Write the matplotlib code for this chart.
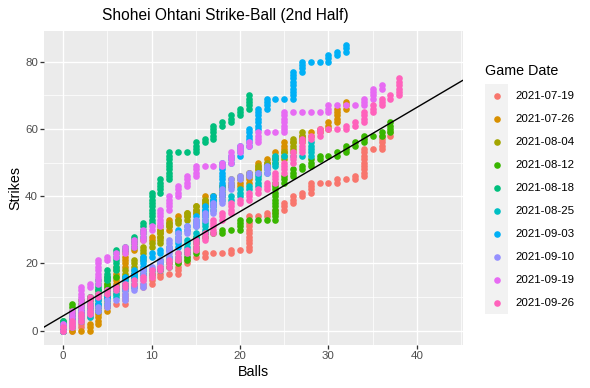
import numpy as np
import matplotlib
matplotlib.use('Agg')
import matplotlib.pyplot as plt
from matplotlib.lines import Line2D
from matplotlib.patches import Rectangle

plt.rcParams['font.family'] = ['Liberation Sans', 'DejaVu Sans']

# game dates and colours (ggplot hue palette)
dates = ['2021-07-19', '2021-07-26', '2021-08-04', '2021-08-12', '2021-08-18',
         '2021-08-25', '2021-09-03', '2021-09-10', '2021-09-19', '2021-09-26']
colors = ['#F8766D', '#D89000', '#A3A500', '#39B600', '#00BF7D',
          '#00BFC4', '#00B0F6', '#9590FF', '#E76BF3', '#FF62BC']

# cumulative strike count reached at each ball count (index = balls)
g0719 = [0, 1, 4, 6, 7, 8, 8, 13, 13, 14, 16, 17, 17, 20, 22, 22, 23, 23, 23, 24, 24,
         34, 34, 35, 36, 38, 40, 41, 44, 44, 44, 45, 45, 46, 54, 54, 58, 59]
g0726 = [0, 0, 0, 2, 6, 14, 19, 24, 27, 27, 28, 30, 33, 34, 35, 37, 40, 40, 43, 43, 44,
         47, 50, 51, 53, 56, 56, 58, 59, 60, 62, 66, 68]
g0804 = [1, 4, 6, 7, 9, 11, 13, 18, 21, 25, 26, 31, 32, 33, 35, 37, 39, 40, 43, 45, 46,
         47, 49, 50, 51, 53, 57, 59]
g0812 = [3, 8, 9, 10, 12, 16, 16, 16, 17, 17, 18, 19, 20, 21, 23, 28, 29, 29, 30, 30, 33,
         33, 33, 33, 44, 46, 48, 49, 51, 52, 52, 53, 55, 56, 58, 58, 59, 62]
g0818 = [3, 5, 7, 10, 15, 18, 24, 25, 28, 32, 41, 45, 53, 53, 53, 56, 57, 61, 62, 64, 66, 70]
g0825 = [1, 3, 4, 6, 8, 10, 12, 13, 17, 18, 18, 21, 22, 23, 27, 29, 36, 39, 39, 40, 42,
         43, 47, 49, 52, 52, 52, 52, 56]
g0903 = [2, 4, 6, 8, 10, 12, 13, 16, 18, 22, 23, 24, 25, 30, 31, 34, 37, 40, 50, 52, 55,
         60, 66, 69, 69, 69, 77, 80, 80, 80, 82, 83, 85]
g0910 = [1, 3, 5, 6, 7, 9, 9, 12, 13, 18, 19, 21, 27, 29, 31, 33, 35, 38, 42, 45, 46,
         47, 47, 49]
g0919 = [2, 6, 13, 14, 21, 22, 23, 25, 27, 30, 31, 36, 40, 43, 46, 49, 49, 49, 50, 53, 55,
         56, 59, 59, 59, 65, 65, 65, 65, 65, 67, 67, 67, 67, 69, 72, 73]
g0926 = [1, 3, 5, 10, 11, 12, 13, 14, 15, 16, 18, 19, 21, 23, 24, 27, 29, 33, 35, 38, 39,
         41, 42, 44, 47, 50, 53, 57, 58, 60, 60, 60, 61, 62, 65, 67, 69, 70, 75]
games = [g0719, g0726, g0804, g0812, g0818, g0825, g0903, g0910, g0919, g0926]

# line drawn across the plot
ab_intercept = 4.4
ab_slope = 1.55

W, H = 590, 388
k = 1.3  # text/mark scale of the reference
fig = plt.figure(figsize=(W / 72, H / 72), dpi=72)
ax = fig.add_axes([44 / W, 1 - 345 / H, (462.5 - 44) / W, (345 - 30.5) / H])
ax.set_facecolor('#EBEBEB')
for sp in ax.spines.values():
    sp.set_visible(False)

# every pitch: balls / strikes count after it (lattice path of each game)
for g, col in zip(games, colors):
    xs, ys = [], []
    prev = 0
    for b, top in enumerate(g):
        for s in range(prev, top + 1):
            xs.append(b)
            ys.append(s)
        prev = top
    ax.scatter(xs, ys, s=44, color=col, linewidths=0, zorder=3)

xl = (-2.15, 45.15)
yl = (-4.25, 89.25)
xx = np.array(xl)
ax.plot(xx, ab_intercept + ab_slope * xx, color='black', lw=1.4, zorder=4)
ax.set_xlim(xl)
ax.set_ylim(yl)

ax.set_xticks([0, 10, 20, 30, 40])
ax.set_yticks([0, 20, 40, 60, 80])
ax.set_xticks([5, 15, 25, 35, 45], minor=True)
ax.set_yticks([10, 30, 50, 70], minor=True)
ax.grid(which='major', color='white', lw=1.4, zorder=0)
ax.grid(which='minor', color='white', lw=0.7, zorder=0)
ax.set_axisbelow(True)
ax.tick_params(which='major', length=3.6, width=1.3, color='#333333',
               labelsize=8.8 * k, labelcolor='#4D4D4D', pad=2.5)
ax.tick_params(which='minor', length=0)

ax.set_xlabel('Balls', fontsize=11 * k, labelpad=4)
ax.set_ylabel('Strikes', fontsize=11 * k, labelpad=3)
fig.text(225 / W, 1 - 15.5 / H, 'Shohei Ohtani Strike-Ball (2nd Half)',
         fontsize=15.5, ha='center', va='center')

# legend
fig.text(485 / W, 1 - 71 / H, 'Game Date', fontsize=11 * k, ha='left', va='center')
fig.add_artist(Rectangle((485 / W, 1 - 314 / H), 23 / W, 230 / H,
                         transform=fig.transFigure, facecolor='#F2F2F2',
                         edgecolor='none'))
for i, (d, col) in enumerate(zip(dates, colors)):
    yy = 1 - (95.7 + 23 * i) / H
    fig.add_artist(Line2D([496.7 / W], [yy], marker='o', markersize=6.6,
                          color=col, markeredgewidth=0, transform=fig.transFigure))
    fig.text(515.5 / W, yy, d, fontsize=8.8 * k, ha='left', va='center')

fig.savefig('out.png', dpi=72)
